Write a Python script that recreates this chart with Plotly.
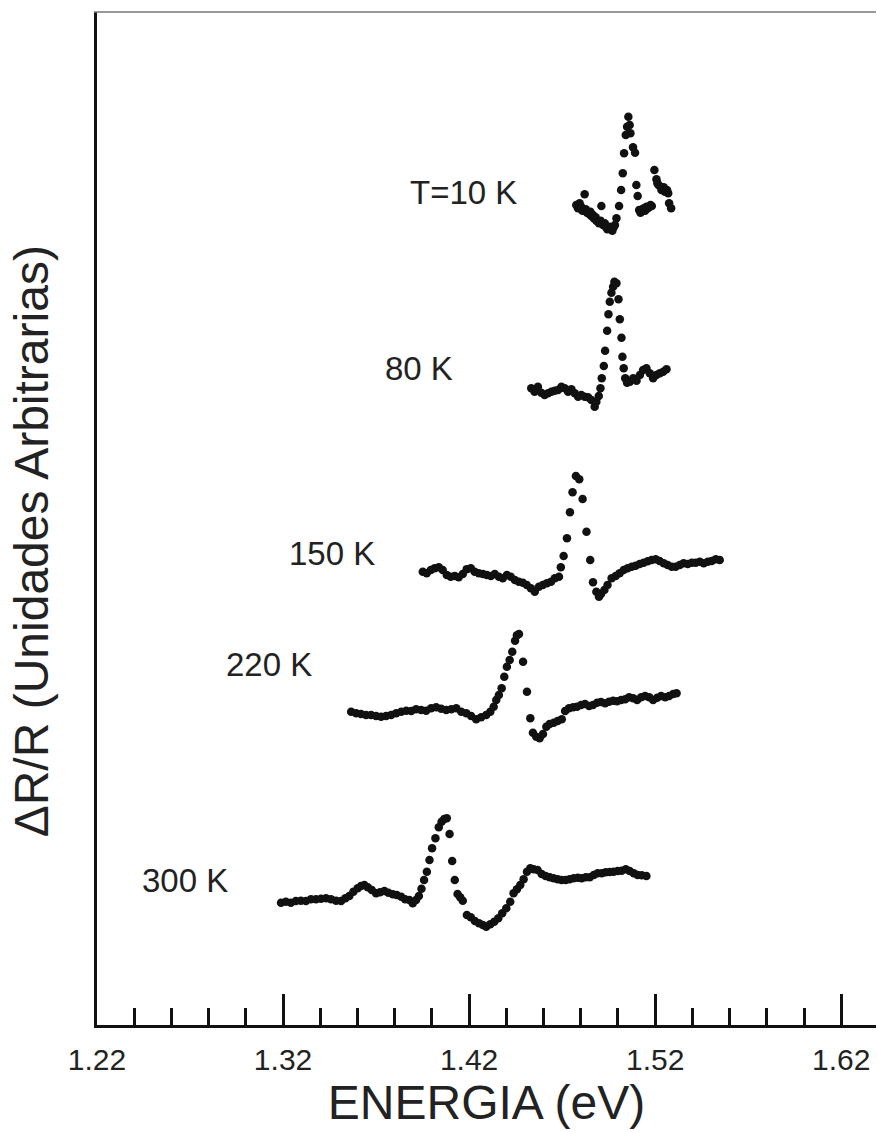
import plotly.graph_objects as go

# Photoreflectance spectra of GaAs at several temperatures (curves stacked vertically)

E_10K = [1.4776, 1.4785, 1.4794, 1.4803, 1.4809, 1.4821, 1.4827, 1.4834, 1.4845, 1.4852,
         1.4857, 1.4866, 1.4870, 1.4880, 1.4884, 1.4893, 1.4898, 1.4907, 1.4911, 1.4920,
         1.4929, 1.4934, 1.4943, 1.4949, 1.4956, 1.4963, 1.4970, 1.4977, 1.4984, 1.4992,
         1.5006, 1.5017, 1.5026, 1.5033, 1.5042, 1.5049, 1.5056, 1.5063, 1.5067, 1.5081,
         1.5092, 1.5099, 1.5106, 1.5114, 1.5121, 1.5126, 1.5132, 1.5139, 1.5146, 1.5153,
         1.5160, 1.5167, 1.5175, 1.5182, 1.5196, 1.5207, 1.5212, 1.5218, 1.5228, 1.5234,
         1.5239, 1.5246, 1.5252, 1.5264, 1.5270, 1.5275, 1.5286]
R_10K = [8.200, 8.167, 8.217, 8.183, 8.143, 8.307, 8.157, 8.123, 8.110, 8.133,
         8.090, 8.100, 8.067, 8.077, 8.043, 8.033, 8.017, 8.043, 8.190, 8.000,
         8.017, 7.983, 7.957, 7.967, 7.983, 7.957, 7.943, 7.977, 8.000, 8.067,
         8.190, 8.350, 8.517, 8.717, 8.900, 8.983, 9.083, 9.000, 8.917, 8.777,
         8.723, 8.400, 8.290, 8.150, 8.123, 8.133, 8.157, 8.167, 8.143, 8.183,
         8.167, 8.177, 8.200, 8.190, 8.550, 8.457, 8.417, 8.400, 8.383, 8.350,
         8.357, 8.377, 8.333, 8.350, 8.317, 8.217, 8.167]

E_80K = [1.4534, 1.4552, 1.4570, 1.4588, 1.4606, 1.4624, 1.4642, 1.4660, 1.4678, 1.4696,
         1.4714, 1.4732, 1.4750, 1.4768, 1.4786, 1.4803, 1.4821, 1.4839, 1.4857, 1.4875,
         1.4884, 1.4897, 1.4906, 1.4913, 1.4924, 1.4931, 1.4942, 1.4949, 1.4956, 1.4965,
         1.4974, 1.4981, 1.4992, 1.5003, 1.5010, 1.5019, 1.5024, 1.5031, 1.5039, 1.5049,
         1.5064, 1.5082, 1.5100, 1.5118, 1.5135, 1.5153, 1.5171, 1.5189, 1.5207, 1.5225,
         1.5243, 1.5261]
R_80K = [6.367, 6.333, 6.383, 6.323, 6.300, 6.317, 6.333, 6.343, 6.350, 6.383,
         6.367, 6.333, 6.357, 6.317, 6.283, 6.300, 6.283, 6.277, 6.250, 6.183,
         6.233, 6.290, 6.367, 6.467, 6.590, 6.743, 6.943, 7.107, 7.233, 7.323,
         7.383, 7.433, 7.417, 7.257, 7.057, 6.873, 6.683, 6.567, 6.467, 6.423,
         6.433, 6.467, 6.443, 6.500, 6.550, 6.567, 6.517, 6.467, 6.500, 6.517,
         6.533, 6.557]

E_150K = [1.3951, 1.3972, 1.3994, 1.4015, 1.4037, 1.4058, 1.4080, 1.4101, 1.4123, 1.4144,
          1.4166, 1.4187, 1.4209, 1.4230, 1.4252, 1.4274, 1.4295, 1.4317, 1.4338, 1.4360,
          1.4381, 1.4403, 1.4424, 1.4446, 1.4467, 1.4489, 1.4510, 1.4532, 1.4553, 1.4575,
          1.4596, 1.4618, 1.4640, 1.4661, 1.4683, 1.4693, 1.4708, 1.4726, 1.4742, 1.4756,
          1.4774, 1.4792, 1.4810, 1.4831, 1.4851, 1.4866, 1.4884, 1.4898, 1.4909, 1.4927,
          1.4944, 1.4966, 1.4988, 1.5009, 1.5031, 1.5052, 1.5074, 1.5095, 1.5117, 1.5138,
          1.5160, 1.5181, 1.5203, 1.5224, 1.5246, 1.5267, 1.5289, 1.5310, 1.5332, 1.5353,
          1.5375, 1.5397, 1.5418, 1.5440, 1.5461, 1.5483, 1.5504, 1.5526, 1.5547]
R_150K = [4.533, 4.517, 4.550, 4.567, 4.577, 4.550, 4.500, 4.483, 4.490, 4.477,
          4.510, 4.557, 4.567, 4.533, 4.517, 4.510, 4.500, 4.490, 4.510, 4.483,
          4.467, 4.500, 4.483, 4.450, 4.433, 4.423, 4.400, 4.367, 4.333, 4.383,
          4.400, 4.417, 4.433, 4.467, 4.483, 4.577, 4.690, 4.867, 5.127, 5.327,
          5.490, 5.457, 5.260, 4.933, 4.650, 4.427, 4.333, 4.283, 4.310, 4.350,
          4.400, 4.467, 4.490, 4.517, 4.550, 4.567, 4.583, 4.593, 4.610, 4.623,
          4.637, 4.650, 4.657, 4.640, 4.617, 4.600, 4.583, 4.583, 4.600, 4.617,
          4.610, 4.623, 4.623, 4.633, 4.617, 4.633, 4.640, 4.657, 4.650]

E_220K = [1.3566, 1.3593, 1.3619, 1.3646, 1.3673, 1.3700, 1.3727, 1.3754, 1.3781, 1.3808,
          1.3835, 1.3862, 1.3889, 1.3915, 1.3942, 1.3969, 1.3996, 1.4023, 1.4050, 1.4077,
          1.4104, 1.4131, 1.4158, 1.4185, 1.4211, 1.4238, 1.4265, 1.4292, 1.4314, 1.4332,
          1.4346, 1.4360, 1.4375, 1.4389, 1.4403, 1.4418, 1.4432, 1.4447, 1.4457, 1.4468,
          1.4490, 1.4511, 1.4529, 1.4543, 1.4561, 1.4579, 1.4597, 1.4615, 1.4633, 1.4655,
          1.4676, 1.4698, 1.4716, 1.4737, 1.4759, 1.4780, 1.4802, 1.4823, 1.4845, 1.4866,
          1.4888, 1.4909, 1.4931, 1.4952, 1.4974, 1.4995, 1.5017, 1.5039, 1.5060, 1.5082,
          1.5103, 1.5125, 1.5146, 1.5168, 1.5189, 1.5211, 1.5232, 1.5254, 1.5275, 1.5297,
          1.5315]
R_220K = [3.133, 3.117, 3.110, 3.100, 3.100, 3.090, 3.083, 3.090, 3.100, 3.117,
          3.133, 3.143, 3.140, 3.157, 3.150, 3.143, 3.167, 3.177, 3.163, 3.150,
          3.157, 3.167, 3.133, 3.117, 3.090, 3.057, 3.077, 3.100, 3.133, 3.183,
          3.250, 3.300, 3.367, 3.483, 3.583, 3.650, 3.733, 3.843, 3.897, 3.910,
          3.633, 3.333, 3.067, 2.923, 2.883, 2.867, 2.910, 2.983, 3.010, 3.023,
          3.040, 3.057, 3.140, 3.167, 3.177, 3.183, 3.200, 3.210, 3.190, 3.200,
          3.223, 3.230, 3.217, 3.233, 3.243, 3.237, 3.250, 3.257, 3.277, 3.267,
          3.250, 3.277, 3.290, 3.277, 3.250, 3.273, 3.290, 3.277, 3.290, 3.310,
          3.317]

E_300K = [1.3189, 1.3215, 1.3242, 1.3269, 1.3296, 1.3323, 1.3350, 1.3377, 1.3404, 1.3431,
          1.3458, 1.3485, 1.3512, 1.3535, 1.3556, 1.3578, 1.3601, 1.3619, 1.3637, 1.3655,
          1.3677, 1.3700, 1.3721, 1.3745, 1.3766, 1.3790, 1.3811, 1.3835, 1.3856, 1.3879,
          1.3897, 1.3915, 1.3930, 1.3944, 1.3958, 1.3973, 1.3987, 1.4001, 1.4019, 1.4037,
          1.4052, 1.4066, 1.4080, 1.4095, 1.4109, 1.4123, 1.4138, 1.4152, 1.4166, 1.4188,
          1.4209, 1.4231, 1.4253, 1.4274, 1.4292, 1.4314, 1.4335, 1.4357, 1.4378, 1.4400,
          1.4421, 1.4439, 1.4457, 1.4475, 1.4493, 1.4511, 1.4529, 1.4547, 1.4568, 1.4590,
          1.4611, 1.4633, 1.4654, 1.4676, 1.4697, 1.4719, 1.4740, 1.4762, 1.4784, 1.4805,
          1.4827, 1.4848, 1.4870, 1.4891, 1.4913, 1.4934, 1.4956, 1.4977, 1.4999, 1.5020,
          1.5042, 1.5063, 1.5085, 1.5106, 1.5128, 1.5153]
R_300K = [1.223, 1.233, 1.223, 1.240, 1.243, 1.240, 1.257, 1.257, 1.263, 1.267,
          1.257, 1.243, 1.240, 1.267, 1.290, 1.333, 1.367, 1.390, 1.400, 1.377,
          1.350, 1.317, 1.327, 1.340, 1.323, 1.307, 1.300, 1.283, 1.257, 1.250,
          1.217, 1.250, 1.290, 1.363, 1.450, 1.533, 1.650, 1.767, 1.867, 1.977,
          2.033, 2.060, 2.067, 1.910, 1.640, 1.450, 1.310, 1.277, 1.243, 1.100,
          1.077, 1.040, 1.017, 1.000, 0.983, 1.007, 1.033, 1.067, 1.117, 1.167,
          1.233, 1.317, 1.357, 1.400, 1.457, 1.533, 1.567, 1.557, 1.550, 1.510,
          1.490, 1.477, 1.467, 1.457, 1.450, 1.450, 1.457, 1.467, 1.473, 1.467,
          1.477, 1.477, 1.500, 1.517, 1.517, 1.527, 1.530, 1.533, 1.540, 1.543,
          1.557, 1.540, 1.517, 1.500, 1.497, 1.490]

CURVE_LABELS = ["T=10 K", "80 K", "150 K", "220 K", "300 K"]
LABEL_E = [1.4170, 1.3933, 1.3465, 1.3126, 1.2674]
LABEL_R = [8.33, 6.57, 4.72, 3.61, 1.45]

MAJOR_TICKS = [1.22, 1.32, 1.42, 1.52, 1.62]
MAJOR_TEXT = ["1.22", "1.32", "1.42", "1.52", "1.62"]
MINOR_TICKS = [1.24, 1.26, 1.28, 1.30, 1.34, 1.36, 1.38, 1.40, 1.44, 1.46, 1.48, 1.50,
               1.54, 1.56, 1.58, 1.60]

FONT = "Liberation Sans, Arial, sans-serif"
INK = "#111111"
TEXT = "#222222"

fig = go.Figure()
for ex, ry in [(E_10K, R_10K), (E_80K, R_80K), (E_150K, R_150K),
               (E_220K, R_220K), (E_300K, R_300K)]:
    fig.add_trace(go.Scatter(
        x=ex, y=ry, mode="markers",
        marker=dict(size=8.5, color=INK, line=dict(width=0)),
        showlegend=False, hoverinfo="skip",
    ))

for text, ex, ry in zip(CURVE_LABELS, LABEL_E, LABEL_R):
    fig.add_annotation(x=ex, y=ry, text=text, showarrow=False,
                       font=dict(family=FONT, size=33, color=TEXT),
                       xanchor="center", yanchor="middle")

# vertical axis title, set slightly below the middle of the axis
fig.add_annotation(xref="paper", yref="paper", x=-0.084, y=0.477,
                   text="ΔR/R (Unidades Arbitrarias)", textangle=-90, showarrow=False,
                   font=dict(family=FONT, size=48, color=TEXT),
                   xanchor="center", yanchor="middle")

fig.update_layout(
    width=877, height=1132,
    margin=dict(l=97, r=1, t=12, b=107),
    paper_bgcolor="white", plot_bgcolor="white",
    font=dict(family=FONT, color=TEXT),
    xaxis=dict(
        range=[1.22, 1.6387],
        showgrid=False, zeroline=False,
        showline=True, linewidth=3, linecolor=INK,
        ticks="inside", ticklen=31, tickwidth=3, tickcolor=INK,
        tickvals=MAJOR_TICKS, ticktext=MAJOR_TEXT,
        tickfont=dict(family=FONT, size=30, color=TEXT),
        ticklabelstandoff=6,
        minor=dict(tickvals=MINOR_TICKS, ticks="inside", ticklen=17,
                   tickwidth=3, tickcolor=INK),
        title=dict(text="ENERGIA (eV)", font=dict(family=FONT, size=48, color=TEXT),
                   standoff=2),
    ),
    yaxis=dict(
        range=[0, 10.13],
        showgrid=False, zeroline=False,
        showline=True, linewidth=3, linecolor=INK,
        ticks="", showticklabels=False,
    ),
    shapes=[dict(type="line", xref="paper", yref="paper", x0=-0.004, x1=1, y0=1, y1=1,
                 line=dict(color="#777", width=1.5))],
)

fig.write_html("out.html")
